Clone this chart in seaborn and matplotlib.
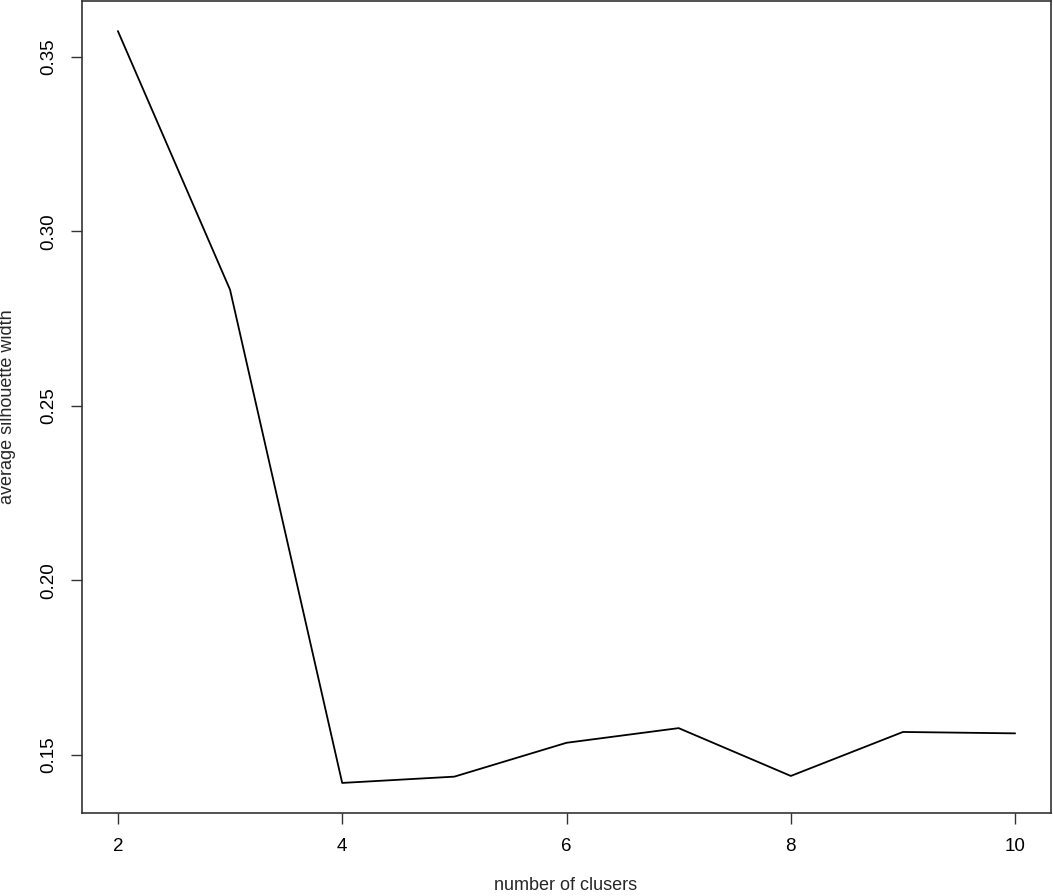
import matplotlib
matplotlib.use("Agg")
import matplotlib.pyplot as plt
import seaborn as sns
import pandas as pd

clusters = [2, 3, 4, 5, 6, 7, 8, 9, 10]
avg_sil = [0.3574, 0.2833, 0.1420, 0.1438, 0.1535, 0.1577, 0.1440, 0.1566, 0.1562]
xticks = [2, 4, 6, 8, 10]
yticks = [0.15, 0.20, 0.25, 0.30, 0.35]
ytick_labels = ["0.15", "0.20", "0.25", "0.30", "0.35"]

sns.set_theme(style="white")
plt.rcParams['font.family'] = ['Liberation Sans', 'DejaVu Sans']

df = pd.DataFrame({"k": clusters, "sil": avg_sil})

fig = plt.figure(figsize=(10.53, 8.96), dpi=100)
ax = fig.add_axes([82/1053, 1 - 813/896, (1051-82)/1053, (813-1)/896])
sns.lineplot(data=df, x="k", y="sil", ax=ax, color="black", linewidth=1.3)

xr = max(clusters) - min(clusters)
ax.set_xlim(min(clusters) - 0.04*xr, max(clusters) + 0.04*xr)
yr = max(avg_sil) - min(avg_sil)
ax.set_ylim(min(avg_sil) - 0.04*yr, max(avg_sil) + 0.04*yr)

ax.set_xticks(xticks)
ax.set_xticklabels([str(v) for v in xticks])
ax.set_yticks(yticks)
ax.set_yticklabels(ytick_labels, rotation=90, va="center")
ax.tick_params(axis="both", which="both", direction="out", length=8, width=1,
               color="#333333", labelsize=13.5, labelcolor="black", pad=10, bottom=True, left=True)

for s in ax.spines.values():
    s.set_visible(True)
    s.set_color("#333333")
    s.set_linewidth(1.2)

ax.set_xlabel("")
ax.set_ylabel("")
fig.text(566/1053, 1 - 885/896, "number of clusers", ha="center", va="center", fontsize=13)
fig.text(8/1053, 1 - 407/896, "average silhouette width", ha="center", va="center",
         rotation=90, fontsize=13)

fig.savefig("out.png", dpi=100)
